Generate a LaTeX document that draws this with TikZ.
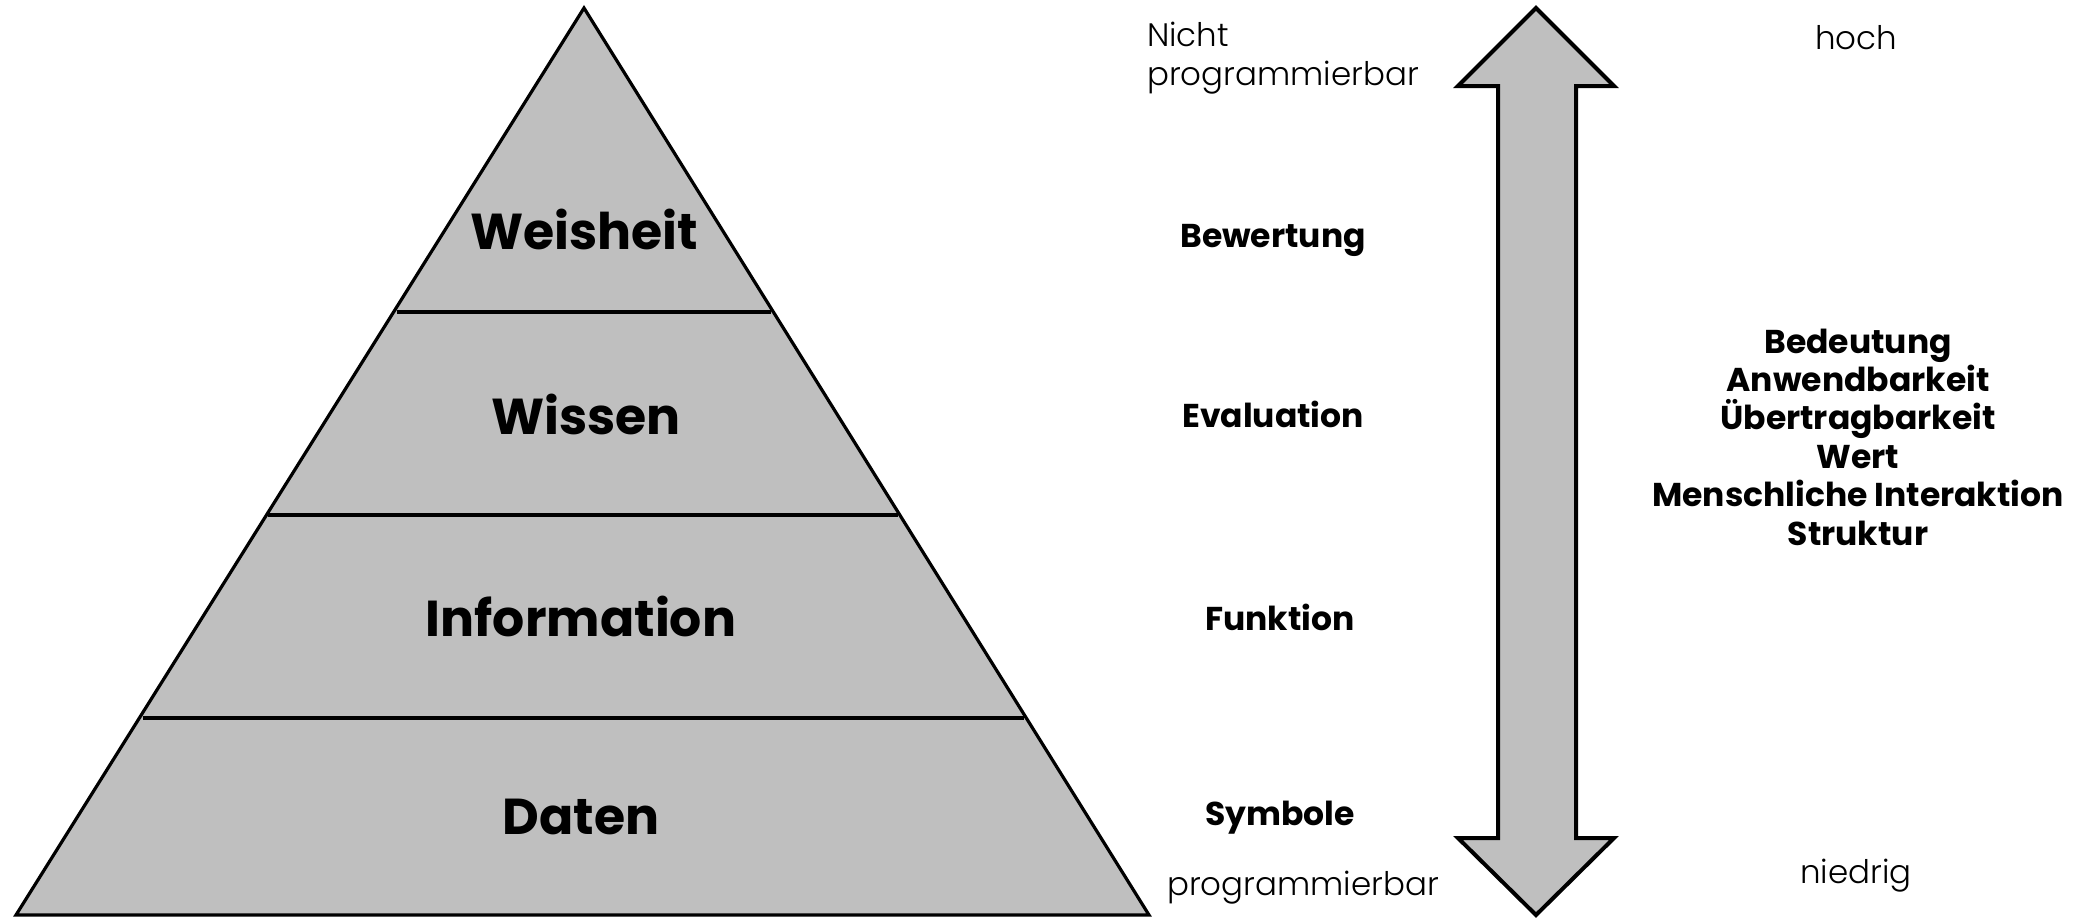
\documentclass[tikz,border=0pt]{standalone}
\usepackage{fontspec}
\setmainfont{Poppins}
\newfontfamily\lightfont{Poppins Light}
\definecolor{layergray}{RGB}{191,191,191}
\tikzset{
  layer/.style={fill=layergray, draw=black, line width=3pt, line join=miter},
  biglabel/.style={font=\fontsize{50.5}{58}\selectfont\bfseries, inner sep=0pt},
  midlabel/.style={font=\fontsize{33}{38.4}\selectfont\bfseries, inner sep=0pt},
  thinlabel/.style={font=\lightfont\fontsize{32.5}{39}\selectfont, inner sep=0pt},
}
\begin{document}
\begin{tikzpicture}[x=1pt, y=-1pt]
\useasboundingbox (0,0) rectangle (2080,918);

% pyramid corners and layer boundaries
\coordinate (apex) at (584,8);
\coordinate (bl) at (16,915);
\coordinate (br) at (1149,915);
\coordinate (l1) at (397,312); \coordinate (r1) at (771,312);
\coordinate (l2) at (268,515); \coordinate (r2) at (898,515);
\coordinate (l3) at (143,718); \coordinate (r3) at (1024,718);

\fill[layergray] (apex) -- (bl) -- (br) -- cycle;
\draw[line width=3.2pt] (l1) -- (r1) (l2) -- (r2) (l3) -- (r3);
\draw[line width=3.2pt, line join=miter] (apex) -- (bl) -- (br) -- cycle;

\node[biglabel] (weisheit) at (584,229) {Weisheit};
\node[biglabel] (wissen) at (586,414) {Wissen};
\node[biglabel] (information) at (581,616) {Information};
\node[biglabel] (daten) at (581,817) {Daten};

% double-headed vertical arrow
\draw[layer, line width=4pt]
  (1536,8) -- (1614,86) -- (1576,86) -- (1576,838) -- (1614,838)
  -- (1536,915) -- (1458,838) -- (1498,838) -- (1498,86) -- (1458,86) -- cycle;

% middle column
\node[thinlabel, anchor=west, align=left] (nicht) at (1147,58)
  {Nicht\\programmierbar};
\node[midlabel] (bewertung) at (1273,240) {Bewertung};
\node[midlabel] (evaluation) at (1273,414) {Evaluation};
\node[midlabel] (funktion) at (1280,617) {Funktion};
\node[midlabel] (symbole) at (1280,818) {Symbole};
\node[thinlabel] (prog) at (1303,888) {programmierbar};

% right column
\node[thinlabel] (hoch) at (1856,38) {hoch};
\node[thinlabel] (niedrig) at (1856,876) {niedrig};
\node[midlabel, align=center] (traits) at (1858,437)
  {Bedeutung\\Anwendbarkeit\\Übertragbarkeit\\Wert\\Menschliche Interaktion\\Struktur};
\end{tikzpicture}
\end{document}
